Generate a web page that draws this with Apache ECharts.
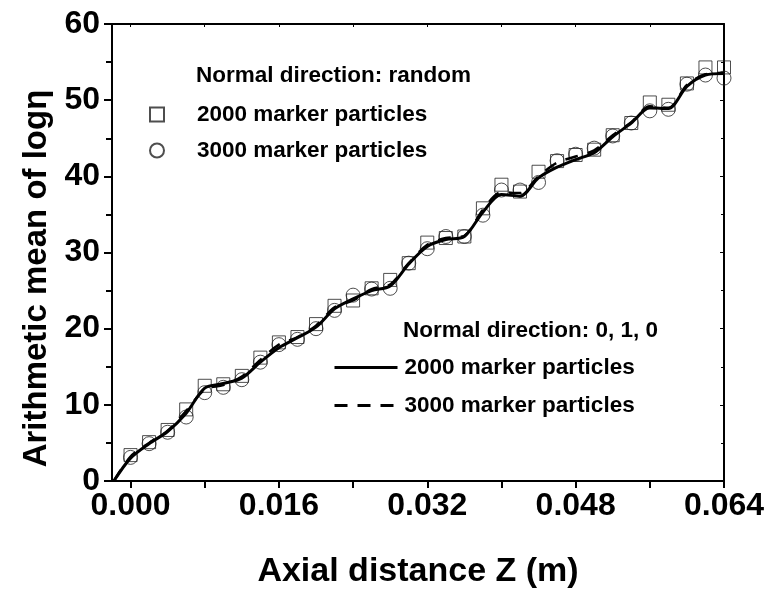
<!DOCTYPE html>
<html>
<head>
<meta charset="utf-8">
<script src="https://cdn.jsdelivr.net/npm/echarts@6/dist/echarts.min.js"></script>
<style>
  html, body { margin: 0; padding: 0; background: #fff; }
  #chart { width: 769px; height: 590px; }
</style>
</head>
<body>
<div id="chart"></div>
<script>
var chart = echarts.init(document.getElementById('chart'))

var FONT = '"Liberation Sans", Arial, sans-serif'

// marker positions along Z (m)
var zMarkers = [0.000, 0.002, 0.004, 0.006, 0.008, 0.010, 0.012, 0.014, 0.016, 0.018, 0.020,
    0.022, 0.024, 0.026, 0.028, 0.030, 0.032, 0.034, 0.036, 0.038, 0.040, 0.042,
    0.044, 0.046, 0.048, 0.050, 0.052, 0.054, 0.056, 0.058, 0.060, 0.062, 0.064]
// normal direction random
var random2000 = [3.4, 5.1, 6.7, 9.4, 12.5, 12.7, 13.8, 16.2, 18.2, 18.9, 20.6,
    23.0, 23.7, 25.3, 26.4, 28.6, 31.3, 31.9, 32.1, 35.8, 38.9, 38.0,
    40.6, 42.0, 42.8, 43.5, 45.4, 47.0, 49.7, 49.4, 52.2, 54.3, 54.3]
var random3000 = [3.1, 4.9, 6.4, 8.4, 11.6, 12.3, 13.3, 15.6, 17.9, 18.6, 20.0,
    22.4, 24.4, 25.2, 25.3, 28.6, 30.5, 32.1, 32.1, 34.9, 38.2, 38.2,
    39.2, 42.05, 42.9, 43.7, 45.3, 47.0, 48.6, 48.8, 52.1, 53.3, 52.9]

// normal direction 0, 1, 0 (lines)
var zLines = [-0.0018, 0.000, 0.002, 0.004, 0.006, 0.008, 0.010, 0.012, 0.014, 0.016, 0.018, 0.020,
    0.022, 0.024, 0.026, 0.028, 0.030, 0.032, 0.034, 0.036, 0.038, 0.040, 0.042,
    0.044, 0.046, 0.048, 0.050, 0.052, 0.054, 0.056, 0.058, 0.060, 0.062, 0.064]
var fixed2000 = [0, 3.0, 4.9, 6.5, 8.9, 12.2, 12.8, 13.5, 15.6, 17.5, 18.8, 20.2,
    22.6, 23.9, 25.0, 25.6, 28.5, 30.8, 31.7, 32.1, 35.3, 37.6, 37.4,
    39.8, 41.2, 42.2, 43.1, 45.2, 47.0, 49.0, 48.9, 51.8, 53.3, 53.5]
var fixed3000 = [0, 3.2, 5.0, 6.6, 9.2, 12.0, 12.6, 13.7, 15.9, 17.9, 18.9, 20.4,
    22.8, 23.7, 25.2, 25.8, 28.6, 31.0, 31.9, 32.2, 35.6, 37.9, 37.8,
    40.0, 41.8, 42.6, 43.4, 45.4, 47.1, 49.2, 49.0, 52.0, 53.4, 53.6]

var xLabels = [0, 0.016, 0.032, 0.048, 0.064]
var xTicks = [0, 0.008, 0.016, 0.024, 0.032, 0.040, 0.048, 0.056, 0.064]

function pairs(xs, ys) {
    return ys.map(function (y, i) { return [xs[i], y] })
}

var legendText = { fontSize: 22.5, fontWeight: 'bold', color: '#000', lineHeight: 22, fontFamily: FONT }

var option = {
    backgroundColor: '#fff',
    animation: false,
    textStyle: { fontFamily: FONT },
    grid: { left: 112, top: 24, right: 45, bottom: 109, outerBoundsMode: 'none', containLabel: false },
    title: [
        {
            text: 'Normal direction: random', left: 196, top: 64, padding: 0,
            textStyle: { fontSize: 22.5, fontWeight: 'bold', color: '#000', fontFamily: FONT }
        },
        {
            text: 'Normal direction: 0, 1, 0', left: 403, top: 319, padding: 0,
            textStyle: { fontSize: 22.5, fontWeight: 'bold', color: '#000', fontFamily: FONT }
        }
    ],
    legend: [
        {
            data: ['2000 marker particles (random)', '3000 marker particles (random)'],
            orient: 'vertical', left: 149, top: 103, padding: 0,
            itemWidth: 14, itemHeight: 14, itemGap: 13,
            formatter: function (n) { return n.replace(' (random)', '') },
            textStyle: Object.assign({ padding: [0, 0, 0, 28] }, legendText)
        },
        {
            data: ['2000 marker particles (0,1,0)', '3000 marker particles (0,1,0)'],
            orient: 'vertical', left: 333, top: 356, padding: 0,
            itemWidth: 63, itemHeight: 14, itemGap: 15,
            itemStyle: { opacity: 0 },
            lineStyle: { width: 3 },
            formatter: function (n) { return n.replace(' (0,1,0)', '') },
            textStyle: Object.assign({ padding: [0, 0, 0, 2] }, legendText)
        }
    ],
    xAxis: [
        {
            type: 'value', min: -0.002, max: 0.064,
            name: 'Axial distance Z (m)', nameLocation: 'middle', nameGap: 74,
            nameTextStyle: { fontSize: 34, fontWeight: 'bold', color: '#000', fontFamily: FONT },
            axisLine: { onZero: false, lineStyle: { color: '#000', width: 2 } },
            axisTick: { customValues: xTicks, length: 7, lineStyle: { color: '#000', width: 2 } },
            axisLabel: {
                customValues: xLabels, margin: 9, fontSize: 32, fontWeight: 'bold', color: '#000', fontFamily: FONT,
                formatter: function (v) { return v.toFixed(3) }
            },
            splitLine: { show: false }
        },
        {
            type: 'value', position: 'top', min: -0.002, max: 0.064,
            axisLine: { onZero: false, lineStyle: { color: '#000', width: 2 } },
            axisTick: { inside: true, customValues: xTicks, length: 3, lineStyle: { color: '#000', width: 1 } },
            axisLabel: { show: false },
            splitLine: { show: false }
        }
    ],
    yAxis: [
        {
            type: 'value', min: 0, max: 60, interval: 10,
            name: 'Arithmetic mean of logη', nameLocation: 'middle', nameGap: 58,
            nameTextStyle: { fontSize: 33, fontWeight: 'bold', color: '#000', fontFamily: FONT, padding: [0, 52, 0, 0] },
            axisLine: { show: true, onZero: false, lineStyle: { color: '#000', width: 2 } },
            axisTick: { show: true, length: 8, lineStyle: { color: '#000', width: 2 } },
            minorTick: { show: true, splitNumber: 2, length: 6, lineStyle: { color: '#000', width: 2 } },
            axisLabel: { margin: 12, fontSize: 32, fontWeight: 'bold', color: '#000', fontFamily: FONT },
            splitLine: { show: false }
        },
        {
            type: 'value', position: 'right', min: 0, max: 60, interval: 10,
            axisLine: { show: true, onZero: false, lineStyle: { color: '#000', width: 2 } },
            axisTick: { show: true, inside: true, length: 4, lineStyle: { color: '#000', width: 1 } },
            minorTick: { show: true, splitNumber: 2, length: 3, lineStyle: { color: '#000', width: 1 } },
            axisLabel: { show: false },
            splitLine: { show: false }
        }
    ],
    series: [
        {
            name: '2000 marker particles (random)', type: 'scatter',
            data: pairs(zMarkers, random2000),
            symbol: 'rect', symbolSize: 13,
            itemStyle: { color: 'rgba(255,255,255,0)', borderColor: '#222', borderWidth: 1 },
            z: 3
        },
        {
            name: '3000 marker particles (random)', type: 'scatter',
            data: pairs(zMarkers, random3000),
            symbol: 'circle', symbolSize: 14,
            itemStyle: { color: 'rgba(255,255,255,0)', borderColor: '#222', borderWidth: 1 },
            z: 3
        },
        {
            name: '2000 marker particles (0,1,0)', type: 'line',
            data: pairs(zLines, fixed2000),
            smooth: 0.3, symbol: 'none',
            lineStyle: { color: '#000', width: 3 },
            itemStyle: { color: '#000' },
            z: 4
        },
        {
            name: '3000 marker particles (0,1,0)', type: 'line',
            data: pairs(zLines, fixed3000),
            smooth: 0.3, symbol: 'none',
            lineStyle: { color: '#000', width: 2.5, type: [13, 10] },
            itemStyle: { color: '#000' },
            z: 4
        }
    ]
}

chart.setOption(option)
</script>
</body>
</html>
